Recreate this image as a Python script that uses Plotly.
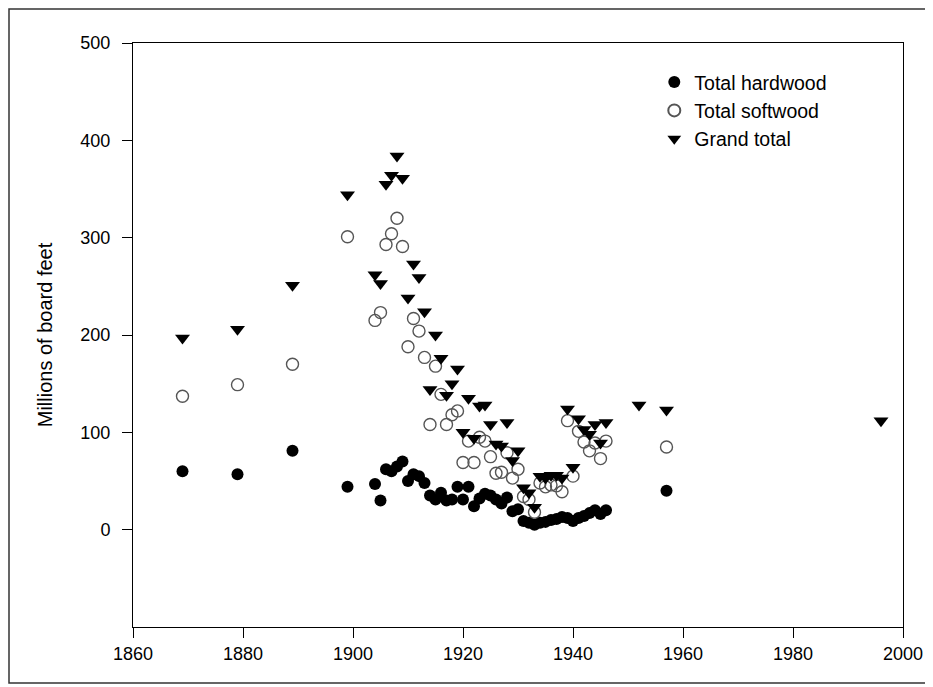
import plotly.graph_objects as go

years = [1869, 1879, 1889, 1899,
         1904, 1905, 1906, 1907, 1908, 1909, 1910, 1911, 1912, 1913,
         1914, 1915, 1916, 1917, 1918, 1919, 1920, 1921, 1922, 1923,
         1924, 1925, 1926, 1927, 1928, 1929, 1930, 1931, 1932, 1933,
         1934, 1935, 1936, 1937, 1938, 1939, 1940, 1941, 1942, 1943,
         1944, 1945, 1946, 1957]

hardwood = [60, 57, 81, 44,
            47, 30, 62, 60, 65, 70, 50, 57, 55, 48,
            35, 31, 38, 30, 31, 44, 31, 44, 24, 32,
            37, 35, 31, 27, 33, 19, 21, 9, 7, 5,
            7, 8, 10, 11, 13, 12, 9, 12, 14, 17,
            20, 16, 20, 40]

softwood = [137, 149, 170, 301,
            215, 223, 293, 304, 320, 291, 188, 217, 204, 177,
            108, 168, 139, 108, 118, 122, 69, 91, 69, 95,
            91, 75, 58, 59, 79, 53, 62, 34, 31, 18,
            48, 44, 46, 45, 39, 112, 55, 101, 90, 81,
            89, 73, 91, 85]

total_years = [1869, 1879, 1889, 1899,
               1904, 1905, 1906, 1907, 1908, 1909, 1910, 1911, 1912, 1913,
               1914, 1915, 1916, 1917, 1918, 1919, 1920, 1921, 1922, 1923,
               1924, 1925, 1926, 1927, 1928, 1929, 1930, 1931, 1932, 1933,
               1934, 1935, 1936, 1937, 1938, 1939, 1940, 1941, 1942, 1943,
               1944, 1945, 1946, 1952, 1957, 1996]

grand_total = [197, 206, 251, 344,
               262, 253, 355, 364, 384, 361, 238, 273, 259, 224,
               144, 200, 176, 138, 150, 165, 100, 135, 94, 127,
               128, 108, 88, 86, 110, 71, 81, 43, 38, 23,
               55, 53, 56, 56, 53, 124, 64, 114, 103, 98,
               108, 89, 110, 128, 123, 112]

x_ticks = [1860, 1880, 1900, 1920, 1940, 1960, 1980, 2000]
y_ticks = [0, 100, 200, 300, 400, 500]

FONT = "Liberation Sans, Arial, sans-serif"

fig = go.Figure()
fig.add_trace(go.Scatter(
    x=years, y=hardwood, mode="markers", name="Total hardwood",
    legendgroup="a",
    marker=dict(symbol="circle", size=12, color="black",
                line=dict(color="black", width=0))))
fig.add_trace(go.Scatter(
    x=years, y=softwood, mode="markers", name="Total softwood",
    legendgroup="b",
    marker=dict(symbol="circle-open", size=12, color="#555555",
                line=dict(color="#555555", width=1.4))))
fig.add_trace(go.Scatter(
    x=total_years, y=grand_total, mode="markers", name="Grand total",
    legendgroup="c",
    marker=dict(symbol="triangle-down", size=13, color="black",
                line=dict(color="black", width=0))))

W, H = 933, 687
L, T, PW, PH = 125, 35, 770, 584

fig.update_layout(
    width=W, height=H,
    margin=dict(l=L, r=W - L - PW, t=T, b=H - T - PH),
    paper_bgcolor="white", plot_bgcolor="white",
    font=dict(family=FONT, size=18, color="black"),
    showlegend=True,
    legend=dict(x=0.677, y=0.966, xanchor="left", yanchor="top",
                bgcolor="rgba(0,0,0,0)", font=dict(size=19.5),
                itemsizing="constant", tracegroupgap=0),
    xaxis=dict(range=[1860, 2000], tickvals=x_ticks, ticks="outside",
               ticklen=10, tickwidth=1, tickcolor="black",
               tickfont=dict(size=18), ticklabelstandoff=0,
               showline=True, linecolor="black", linewidth=1, mirror=True,
               showgrid=False, zeroline=False),
    yaxis=dict(range=[-100, 500], tickvals=y_ticks, ticks="outside",
               ticklen=10, tickwidth=1, tickcolor="black",
               tickfont=dict(size=18), ticklabelstandoff=8,
               showline=True, linecolor="black", linewidth=1, mirror=True,
               showgrid=False, zeroline=False,
               title=dict(text="Millions of board feet", font=dict(size=20),
                          standoff=22)),
)

# Outer border of the picture (figure pixel coordinates -> paper fractions)
bx0, bx1, by_top, by_bot = 1, 921, 1, 675
fig.add_shape(type="rect", xref="paper", yref="paper",
              x0=(bx0 - L) / PW, x1=(bx1 - L) / PW,
              y0=(T + PH - by_bot) / PH, y1=(T + PH - by_top) / PH,
              line=dict(color="#333333", width=1.5), layer="below")

fig.write_html("out.html")
